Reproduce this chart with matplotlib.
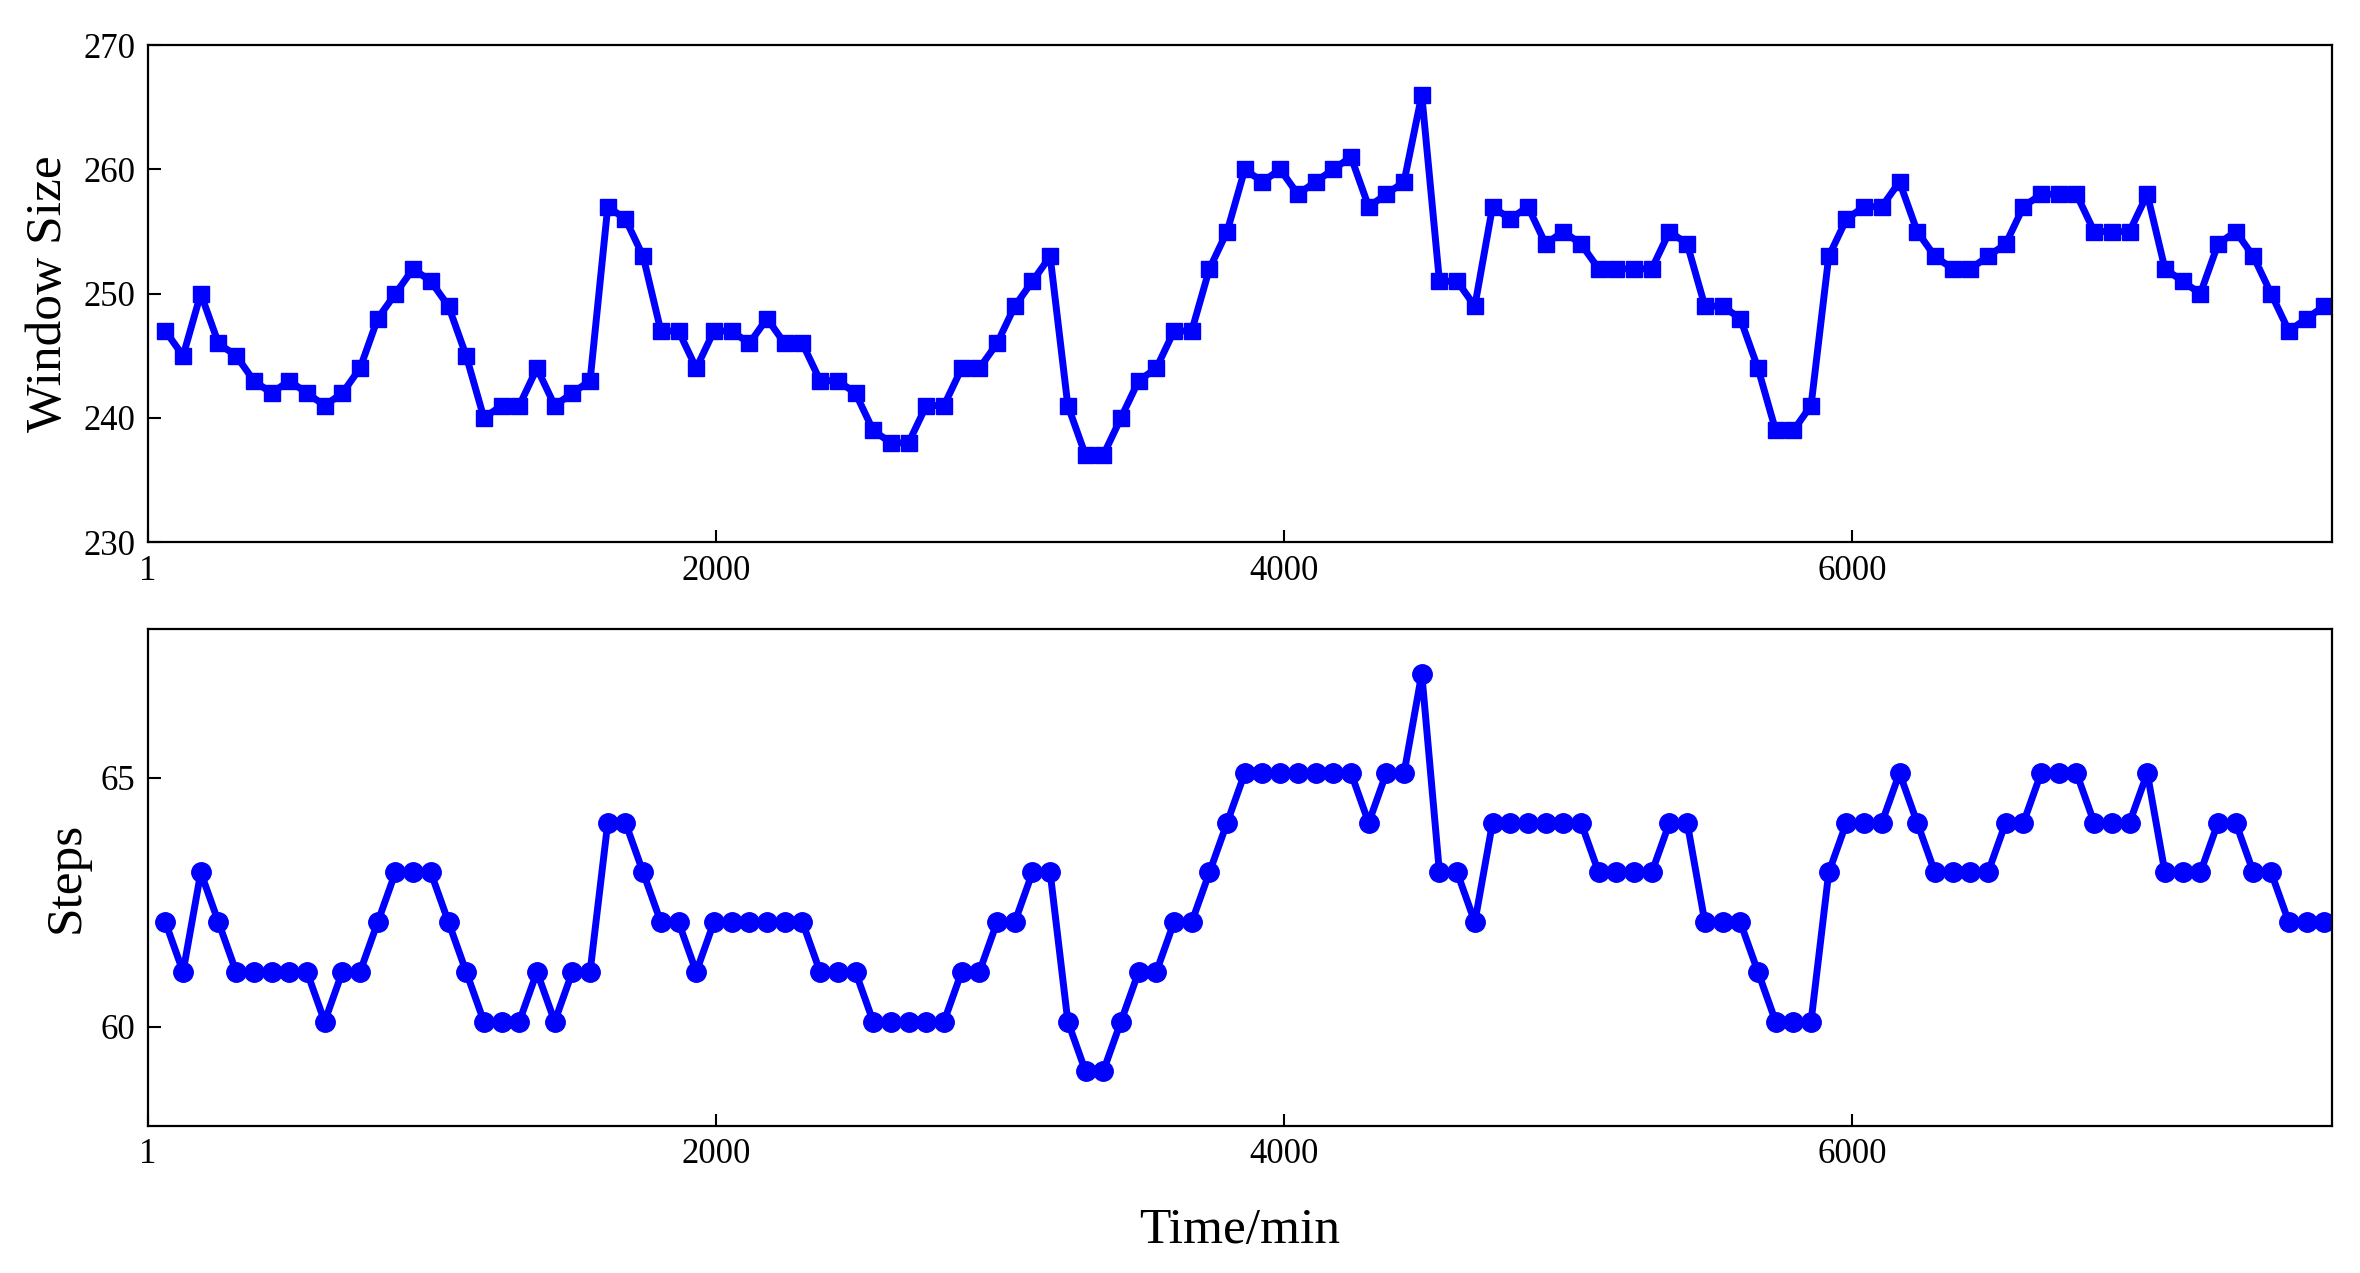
import numpy as np
import matplotlib
matplotlib.use("Agg")
import matplotlib.pyplot as plt

# values, one per sample
window_size = [247, 245, 250, 246, 245, 243, 242, 243, 242, 241, 242, 244, 248, 250, 252, 251,
               249, 245, 240, 241, 241, 244, 241, 242, 243, 257, 256, 253, 247, 247, 244,
               247, 247, 246, 248, 246, 246, 243, 243, 242, 239, 238, 238, 241, 241, 244,
               244, 246, 249, 251, 253, 241, 237, 237, 240, 243, 244, 247, 247, 252, 255,
               260, 259, 260, 258, 259, 260, 261, 257, 258, 259, 266, 251, 251, 249, 257,
               256, 257, 254, 255, 254, 252, 252, 252, 252, 255, 254, 249, 249, 248, 244, 239,
               239, 241, 253, 256, 257, 257, 259, 255, 253, 252, 252, 253, 254, 257, 258,
               258, 258, 255, 255, 255, 258, 252, 251, 250, 254, 255, 253, 250, 247, 248, 249]

steps = [62.1, 61.1, 63.1, 62.1, 61.1, 61.1, 61.1, 61.1, 61.1, 60.1, 61.1, 61.1, 62.1, 63.1, 63.1, 63.1,
         62.1, 61.1, 60.1, 60.1, 60.1, 61.1, 60.1, 61.1, 61.1, 64.1, 64.1, 63.1, 62.1, 62.1, 61.1,
         62.1, 62.1, 62.1, 62.1, 62.1, 62.1, 61.1, 61.1, 61.1, 60.1, 60.1, 60.1, 60.1, 60.1, 61.1,
         61.1, 62.1, 62.1, 63.1, 63.1, 60.1, 59.1, 59.1, 60.1, 61.1, 61.1, 62.1, 62.1, 63.1, 64.1,
         65.1, 65.1, 65.1, 65.1, 65.1, 65.1, 65.1, 64.1, 65.1, 65.1, 67.1, 63.1, 63.1, 62.1, 64.1,
         64.1, 64.1, 64.1, 64.1, 64.1, 63.1, 63.1, 63.1, 63.1, 64.1, 64.1, 62.1, 62.1, 62.1, 61.1, 60.1,
         60.1, 60.1, 63.1, 64.1, 64.1, 64.1, 65.1, 64.1, 63.1, 63.1, 63.1, 63.1, 64.1, 64.1, 65.1,
         65.1, 65.1, 64.1, 64.1, 64.1, 65.1, 63.1, 63.1, 63.1, 64.1, 64.1, 63.1, 63.1, 62.1, 62.1, 62.1]

# sampling instants (min)
time = np.arange(1, len(window_size) + 1) * 62.3

xticks = [1, 2000, 4000, 6000]
ws_ticks = [230, 240, 250, 260, 270]
step_ticks = [60, 65]

plt.rcParams['font.family'] = ['Liberation Serif', 'DejaVu Serif']

fig = plt.figure(figsize=(23.6, 12.73), dpi=100)
ax1 = fig.add_axes([0.0627, 0.574, 0.9254, 0.3906])
ax2 = fig.add_axes([0.0627, 0.1155, 0.9254, 0.3905])

ax1.plot(time, window_size, color='#0000FF', lw=5, marker='s', ms=12, mew=1)
ax2.plot(time, steps, color='#0000FF', lw=5, marker='o', ms=14, mew=1)

ax1.set_ylim(230, 270)
ax1.set_yticks(ws_ticks)
ax1.set_ylabel("Window Size", fontsize=37, labelpad=8)
ax2.set_ylim(58, 68)
ax2.set_yticks(step_ticks)
ax2.set_ylabel("Steps", fontsize=37, labelpad=8)
ax2.set_xlabel("Time/min", fontsize=37, labelpad=26)

for ax in (ax1, ax2):
    ax.set_xlim(1, 7690)
    ax.set_xticks(xticks)
    ax.tick_params(direction='in', length=9, width=1.5, labelsize=25, pad=9,
                   top=False, right=False)
    for s in ax.spines.values():
        s.set_linewidth(1.6)

fig.savefig("out.png", dpi=100)
